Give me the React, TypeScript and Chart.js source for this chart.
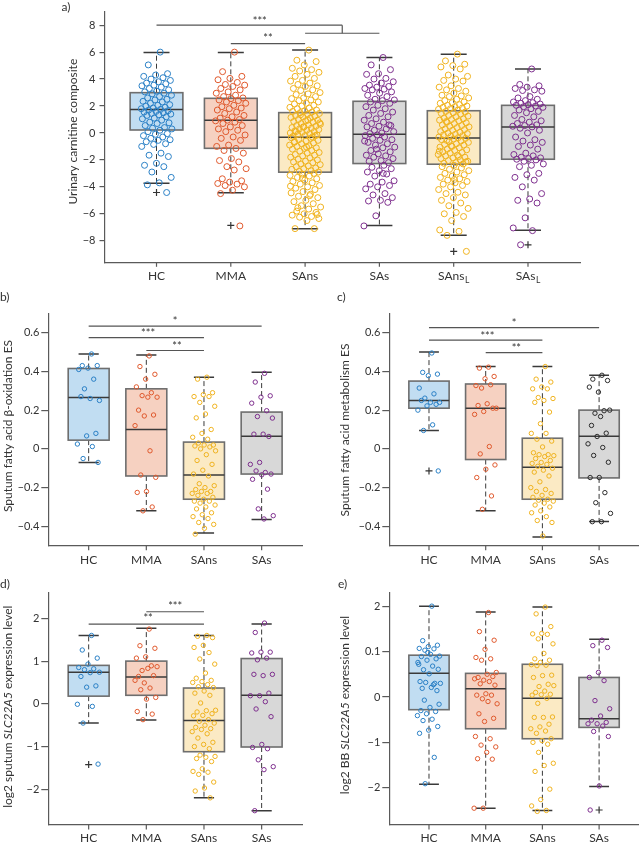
import React, { useEffect, useRef } from 'react';
import { Chart, registerables } from 'chart.js';
Chart.register(...registerables);

const FONT = 'Lato, "Noto Sans", sans-serif';
const TEXT = '#333333';
const AXIS = '#5a5a5a';

// ---------- shared categories / colours ----------
const groupsA = ['HC', 'MMA', 'SAns', 'SAs', 'SAns', 'SAs'];
const subsA = ['', '', '', '', 'L', 'L'];
const groupsB = ['HC', 'MMA', 'SAns', 'SAs'];
const subsB = ['', '', '', ''];
const dotColors = ['#2a80c6', '#e0592d', '#f0b31f', '#7e2f8e', '#f0b31f', '#7e2f8e'];
const dotColorsC = ['#2a80c6', '#e0592d', '#f0b31f', '#2b2b2b'];
const boxFills = ['#c1ddf2', '#f6d1c1', '#fbeac4', '#d8d8d8', '#fbeac4', '#d8d8d8'];

// ---------- panel a: urinary carnitine composite ----------
const aTicks = [-8, -6, -4, -2, 0, 2, 4, 6, 8];
const aTickLabels = ['−8', '−6', '−4', '−2', '0', '2', '4', '6', '8'];
const aHC = [6.0, 5.05, 4.4, 4.3, 4.2, 4.1, 4.0, 3.9, 3.8, 3.7, 3.65, 3.55, 3.5, 3.4, 3.3, 3.2, 3.1, 3.05, 2.95, 2.9, 2.8, 2.7, 2.6, 2.5, 2.45, 2.35, 2.3, 2.2, 2.1, 2.05, 2.0, 1.9, 1.85, 1.8, 1.75, 1.7, 1.65, 1.6, 1.55, 1.5, 1.45, 1.4, 1.35, 1.3, 1.2, 1.1, 1.05, 0.95, 0.8, 0.75, 0.7, 0.55, 0.4, 0.35, 0.3, 0.2, 0.1, -0.05, -0.1, -0.2, -0.3, -0.4, -0.5, -0.55, -0.65, -0.8, -0.85, -1.0, -1.5, -1.65, -1.75, -2.25, -2.4, -2.5, -2.9, -3.3, -3.7, -3.85, -4.42];
const aMMA = [6.0, 4.55, 4.2, 4.05, 3.95, 3.75, 3.6, 3.55, 3.45, 3.3, 3.2, 3.05, 2.95, 2.8, 2.7, 2.6, 2.55, 2.45, 2.4, 2.3, 2.2, 2.05, 1.95, 1.85, 1.8, 1.7, 1.55, 1.45, 1.3, 1.2, 1.1, 1.0, 0.95, 0.9, 0.8, 0.7, 0.55, 0.45, 0.3, 0.2, 0.1, -0.15, -0.3, -0.4, -0.55, -0.9, -1.0, -1.15, -1.3, -1.5, -1.9, -2.05, -2.15, -2.5, -2.65, -2.75, -3.4, -3.55, -3.65, -3.75, -3.8, -3.9, -4.0, -4.25, -4.5, -6.9];
const aSAns = [6.15, 5.4, 5.3, 5.05, 4.8, 4.7, 4.6, 4.5, 4.35, 4.2, 4.05, 3.9, 3.85, 3.7, 3.6, 3.5, 3.45, 3.3, 3.2, 3.15, 3.0, 2.9, 2.85, 2.7, 2.6, 2.55, 2.45, 2.4, 2.3, 2.2, 2.15, 2.05, 2.0, 1.9, 1.85, 1.8, 1.7, 1.65, 1.6, 1.55,
  1.5, 1.45, 1.4, 1.3, 1.25, 1.2, 1.15, 1.1, 1.0, 0.95, 0.9, 0.85, 0.8, 0.7, 0.65, 0.6, 0.55, 0.5, 0.45, 0.4, 0.35, 0.3, 0.25, 0.2, 0.15, 0.1, 0.05, 0.0, -0.05, -0.1, -0.15, -0.2, -0.25, -0.3, 1.35, 0.75, 0.95, 0.1, -0.2, 0.45,
  -0.35, -0.4, -0.5, -0.55, -0.6, -0.7, -0.75, -0.8, -0.9, -0.95, -1.0, -1.1, -1.15, -1.2, -1.3, -1.35, -1.45, -1.5, -1.6, -1.65, -1.7, -1.8, -1.85, -1.95, -2.0, -2.1, -2.15, -2.2, -2.3, -2.35, -2.45, -2.5, -2.6, -2.65, -2.7, -2.8, -2.85, -2.9, -1.05, -0.65,
  -3.0, -3.05, -3.15, -3.2, -3.3, -3.4, -3.5, -3.6, -3.7, -3.8, -3.9, -4.0, -4.1, -4.2, -4.35, -4.45, -4.55, -4.7, -4.8, -5.0, -5.1, -5.25, -5.4, -5.5, -5.65, -5.8, -5.9, -6.0, -6.1, -6.2, -6.25, -6.35, -6.5, -7.1, -7.1, -3.35, -3.95, -4.65, -5.55, -6.05];
const aSAs = [5.6, 5.05, 4.7, 4.4, 4.35, 4.05, 4.0, 3.8, 3.7, 3.55, 3.45, 3.4, 3.3, 3.25, 3.2, 3.05, 2.95, 2.8, 2.7, 2.5, 2.45, 2.4,
  2.3, 2.2, 2.05, 1.95, 1.8, 1.7, 1.55, 1.45, 1.3, 1.2, 1.05, 0.95, 0.8, 0.7, 0.55, 0.5, 0.45, 0.3, 0.2, 0.1, 0.0, -0.05, 0.6,
  -0.15, -0.2, -0.3, -0.4, -0.5, -0.55, -0.7, -0.8, -0.9, -1.05, -1.1, -1.3, -1.4, -1.55, -1.65, -1.7, -1.8, -1.9, -2.05, -2.1, -2.2, -1.2, -0.6,
  -2.4, -2.55, -2.65, -2.8, -2.9, -3.05, -3.2, -3.55, -3.65, -3.8, -3.9, -4.0, -4.15, -4.5, -4.6, -4.8, -5.0, -5.05, -5.15, -6.15, -6.9, -3.0];
const aSAnsL = [5.85, 5.35, 5.1, 5.0, 4.9, 4.75, 4.3, 4.2, 4.0, 3.9, 3.85, 3.5, 3.4, 3.3, 3.2, 3.1, 2.95, 2.8, 2.75, 2.7, 2.6, 2.5, 2.4, 2.3, 2.25, 2.2, 2.1, 2.05, 2.0, 1.95, 1.9, 1.85, 1.8, 1.75, 1.7,
  1.6, 1.55, 1.5, 1.45, 1.4, 1.3, 1.25, 1.2, 1.1, 1.05, 1.0, 0.95, 0.9, 0.8, 0.75, 0.7, 0.6, 0.55, 0.5, 0.45, 0.4, 0.3, 0.25, 0.2, 0.1, 0.05, 0.0, -0.05, -0.1, -0.15, -0.2, -0.25, -0.3, -0.35, 0.85,
  -0.4, -0.45, -0.5, -0.6, -0.65, -0.7, -0.8, -0.85, -0.9, -1.0, -1.05, -1.1, -1.2, -1.25, -1.3, -1.4, -1.45, -1.5, -1.6, -1.65, -1.7, -1.8, -1.85, -1.9, -2.0, -2.05, -2.1, -2.2, -2.25, -2.3, -0.95, -1.35, -1.75, -0.55, -2.15,
  -2.4, -2.5, -2.6, -2.7, -2.8, -2.9, -3.0, -3.1, -3.2, -3.3, -3.4, -3.5, -3.6, -3.7, -3.8, -3.9, -4.0, -4.2, -4.4, -4.5, -4.6, -4.8, -5.0, -5.2, -5.4, -5.6, -5.9, -6.0, -6.2, -6.5, -7.2, -7.3, -7.6, -8.79, -3.45];
const aSAsL = [4.75, 3.6, 3.5, 3.4, 3.3, 3.2, 3.15, 3.1, 2.7, 2.6, 2.5, 2.4, 2.3, 2.25, 2.2, 2.15, 2.1, 2.05,
  2.0, 1.95, 1.9, 1.8, 1.7, 1.6, 1.5, 1.3, 1.2, 1.0, 0.9, 0.8, 0.7, 0.6, 0.55, 0.5, 0.45,
  0.35, 0.2, 0.0, -0.3, -0.5, -0.6, -0.7, -0.9, -1.0, -1.2, -1.5, -1.6, -1.7, -1.8, -1.85, -1.9, -1.95,
  -2.0, -2.1, -2.3, -2.4, -2.5, -3.0, -3.1, -3.3, -3.5, -4.0, -4.5, -4.9, -5.0, -5.2, -6.3, -7.05, -7.25, -8.3];
// [lower whisker, q1, median, q3, upper whisker]
const aBoxes = [[-3.73, 0.22, 1.75, 2.99, 5.98], [-4.44, -1.14, 0.94, 2.57, 5.98], [-7.11, -2.91, -0.32, 1.51, 6.15], [-6.86, -2.27, -0.1, 2.35, 5.6], [-7.6, -2.32, -0.37, 1.65, 5.85], [-7.23, -1.95, 0.44, 2.05, 4.74]];
const aOutliers = [[0, -4.42], [1, -6.86], [4, -8.79], [5, -8.3]];

// ---------- panel b: sputum fatty acid beta-oxidation ----------
const bcTicks = [-0.4, -0.2, 0, 0.2, 0.4, 0.6];
const bcTickLabels = ['−0.4', '−0.2', '0', '0.2', '0.4', '0.6'];
const bHC = [0.49, 0.43, 0.43, 0.417, 0.41, 0.36, 0.31, 0.25, 0.26, 0.27, 0.08, 0.067, 0.025, 0.012, -0.05, -0.07];
const bMMA = [0.48, 0.425, 0.385, 0.36, 0.32, 0.29, 0.275, 0.267, 0.267, 0.2, 0.175, 0.17, 0.12, -0.01, -0.135, -0.147, -0.22, -0.225, -0.3, -0.32];
const bSAns = [0.37, 0.36, 0.29, 0.28, 0.27, 0.27, 0.24, 0.22, 0.18, 0.16, 0.1, 0.08, 0.06, 0.05, 0.03, 0.02, 0.02, 0.015, 0.01, 0.0, -0.01, -0.03, -0.06, -0.08, -0.11, -0.13, -0.14, -0.18, -0.19, -0.2, -0.21, -0.22, -0.22, -0.23, -0.23, -0.24, -0.25, -0.26, -0.27, -0.27, -0.28, -0.29, -0.3, -0.31, -0.33, -0.34, -0.35, -0.36, -0.38, -0.39, -0.41, -0.44];
const bSAs = [0.39, 0.345, 0.274, 0.267, 0.236, 0.197, 0.167, 0.159, 0.076, 0.076, 0.064, -0.07, -0.08, -0.122, -0.114, -0.13, -0.134, -0.157, -0.208, -0.31, -0.345, -0.362];
const bBoxes = [[-0.07, 0.045, 0.265, 0.415, 0.49], [-0.32, -0.14, 0.1, 0.31, 0.485], [-0.435, -0.26, -0.135, 0.035, 0.37], [-0.365, -0.13, 0.065, 0.19, 0.395]];

// ---------- panel c: sputum fatty acid metabolism ----------
const cHC = [0.495, 0.395, 0.386, 0.378, 0.314, 0.284, 0.262, 0.24, 0.24, 0.25, 0.23, 0.222, 0.2, 0.124, 0.095, -0.114];
const cMMA = [0.422, 0.417, 0.374, 0.362, 0.327, 0.331, 0.314, 0.21, 0.233, 0.224, 0.21, 0.193, 0.178, 0.012, -0.026, -0.083, -0.105, -0.148, -0.243, -0.312];
const cSAns = [0.425, 0.36, 0.345, 0.32, 0.31, 0.31, 0.265, 0.26, 0.25, 0.24, 0.19, 0.13, 0.08, 0.08, 0.05, 0.04, 0.01, -0.02, -0.03, -0.03, -0.035, -0.04, -0.05, -0.06, -0.07, -0.075, -0.08, -0.09, -0.1, -0.11, -0.12, -0.14, -0.17, -0.2, -0.21, -0.22, -0.23, -0.24, -0.25, -0.26, -0.265, -0.27, -0.28, -0.29, -0.3, -0.32, -0.33, -0.35, -0.37, -0.38, -0.45];
const cSAs = [0.38, 0.36, 0.353, 0.293, 0.319, 0.197, 0.184, 0.2, 0.167, 0.121, 0.081, 0.064, 0.026, 0.007, -0.034, -0.069, -0.148, -0.148, -0.226, -0.278, -0.333, -0.376, -0.376];
const cBoxes = [[0.095, 0.21, 0.25, 0.35, 0.5], [-0.32, -0.055, 0.21, 0.335, 0.425], [-0.455, -0.26, -0.095, 0.055, 0.425], [-0.375, -0.15, 0.065, 0.2, 0.38]];
const cOutliers = [[0, -0.114]];

// ---------- panel d: sputum SLC22A5 ----------
const dTicks = [-2, -1, 0, 1, 2];
const dTickLabels = ['−2', '−1', '0', '1', '2'];
const dHC = [1.6, 1.26, 1.07, 0.93, 0.85, 0.82, 0.8, 0.74, 0.73, 0.64, 0.42, 0.39, -0.01, -0.06, -0.45, -1.41];
const dMMA = [1.75, 1.36, 1.3, 1.1, 1.07, 0.89, 0.78, 0.87, 0.83, 0.64, 0.66, 0.49, 0.55, 0.37, 0.33, 0.15, 0.11, -0.18, -0.24, -0.37];
const dSAns = [1.6, 1.58, 1.55, 1.37, 1.32, 1.2, 1.05, 0.93, 0.72, 0.6, 0.55, 0.52, 0.5, 0.45, 0.4, 0.38, 0.3, 0.25, 0.2, 0.02, -0.15, -0.16, -0.19, -0.23, -0.27, -0.28, -0.37, -0.41, -0.45, -0.5, -0.55, -0.58, -0.6, -0.65, -0.7, -0.8, -0.9, -0.95, -1.0, -1.05, -1.2, -1.23, -1.25, -1.28, -1.35, -1.52, -1.58, -1.6, -1.65, -1.83, -1.97, -2.04, -2.2];
const dSAs = [1.89, 1.67, 1.21, 1.21, 1.19, 1.07, 1.03, 0.69, 0.66, 0.69, 0.25, 0.19, 0.19, 0.05, -0.12, -0.3, -0.95, -1.02, -1.05, -1.31, -1.47, -1.54, -2.5];
const dBoxes = [[-0.45, 0.18, 0.74, 0.9, 1.6], [-0.38, 0.2, 0.63, 1.0, 1.77], [-2.2, -1.12, -0.39, 0.37, 1.6], [-2.5, -1.01, 0.2, 1.06, 1.87]];
const dOutliers = [[0, -1.42]];

// ---------- panel e: BB SLC22A5 ----------
const eTicks = [-2, -1, 0, 1, 2];
const eTickLabels = ['−2', '−1', '0', '0.1', '2'];
const eHC = [2.0, 1.24, 1.14, 1.11, 1.07, 1.06, 1.03, 0.9, 0.94, 0.89, 0.84, 0.81, 0.76, 0.68, 0.6, 0.61, 0.51, 0.34, 0.3, 0.32, 0.3, 0.21, 0.19, 0.14, 0.98, 0.72, 0.27, -0.07, -0.16, -0.23, -0.3, -0.32, -0.37, -0.41, -0.49, -0.52, -0.65, -0.73, -0.8, -1.33, -1.91];
const eMMA = [1.86, 1.44, 1.25, 1.05, 0.87, 0.84, 0.81, 0.54, 0.5, 0.43, 0.45, 0.37, 0.4, 0.34, 0.29, 0.26, 0.07, 0.04, 0.04, -0.04, -0.15, -0.1, -0.37, -0.47, -0.54, -0.87, -0.92, -1.06, -1.1, -1.22, -1.36, -1.37, -2.45, -2.45];
const eSAns = [1.98, 1.83, 1.55, 1.4, 1.39, 1.38, 1.28, 1.17, 0.96, 0.84, 0.81, 0.76, 0.71, 0.7, 0.69, 0.48, 0.47, 0.43, 0.28, 0.23, 0.25, 0.13, 0.1, 0.06, 0.05, 0.04, -0.03, -0.14, -0.44, -0.45, -0.45, -0.6, -0.66, -0.7, -0.75, -0.8, -0.92, -0.96, -1.0, -1.04, -1.22, -1.46, -1.51, -1.64, -2.03, -2.26, -2.4, -2.5, -2.52];
const eSAs = [1.25, 1.13, 1.09, 0.54, 0.43, 0.36, -0.08, -0.26, -0.42, -0.51, -0.56, -0.59, -0.59, -0.64, -0.76, -0.87, -1.96, -2.49];
const eBoxes = [[-1.92, -0.28, 0.52, 0.92, 2.0], [-2.45, -0.7, 0.18, 0.52, 1.87], [-2.5, -0.92, -0.03, 0.72, 1.98], [-1.97, -0.67, -0.48, 0.43, 1.27]];
const eOutliers = [[3, -2.49]];

// significance brackets: [x1, y1, x2, y2] in data units; stars: [text, x, y]
const aLines = [[0, 8.0, 2.5, 8.0], [2.5, 8.0, 2.5, 7.4], [2, 7.4, 3, 7.4], [1, 6.63, 2, 6.63]];
const aStars: [string, number, number][] = [['***', 1.39, 8.53], ['**', 1.5, 7.29]];
const bLines = [[0, 0.634, 3, 0.634], [0, 0.574, 2, 0.574], [1, 0.508, 2, 0.508]];
const bStars: [string, number, number][] = [['*', 1.5, 0.678], ['***', 1.03, 0.612], ['**', 1.53, 0.548]];
const cLines = [[0, 0.626, 3, 0.626], [0, 0.562, 2, 0.562], [1, 0.497, 2, 0.497]];
const cStars: [string, number, number][] = [['*', 1.5, 0.664], ['***', 1.03, 0.6], ['**', 1.54, 0.536]];
const dLines = [[1, 2.155, 2, 2.155], [0, 1.867, 2, 1.867]];
const dStars: [string, number, number][] = [['***', 1.5, 2.36], ['**', 1.03, 2.08]];

type Spec = {
  left: number; top: number; width: number; height: number;
  pad: { left: number; right: number; top: number; bottom: number };
  yW: number; xH: number; tickPad: number; tickLen: number;
  xMin: number; xMax: number; yMin: number; yMax: number;
  yTicks: number[]; yTickLabels: string[];
  groups: string[]; subs: string[];
  points: number[][]; colors: string[]; fills: string[];
  boxes: number[][]; outliers: number[][];
  lines: number[][]; stars: [string, number, number][];
  title: [string, boolean][]; titleX: number; titleY: number;
  label: string; labelX: number; labelY: number;
  r: number; xLabelOffset: number;
};

const specs: Spec[] = [
  {
    left: 0, top: 0, width: 644, height: 285,
    pad: { left: 74.5, right: 64, top: 11.7, bottom: 7.7 }, yW: 30, xH: 15, tickPad: 4, tickLen: 5,
    xMin: -0.7, xMax: 5.7, yMin: -9.6, yMax: 9.0, yTicks: aTicks, yTickLabels: aTickLabels,
    groups: groupsA, subs: subsA, points: [aHC, aMMA, aSAns, aSAs, aSAnsL, aSAsL],
    colors: dotColors, fills: boxFills, boxes: aBoxes, outliers: aOutliers,
    lines: aLines, stars: aStars,
    title: [['Urinary carnitine composite', false]], titleX: 72.8, titleY: 131.7,
    label: 'a)', labelX: 61.5, labelY: 7.5, r: 3, xLabelOffset: 13.4,
  },
  {
    left: 0, top: 285, width: 322, height: 285,
    pad: { left: 18.3, right: 20, top: 28.3, bottom: 9.3 }, yW: 30, xH: 15, tickPad: 2, tickLen: 7,
    xMin: -0.7, xMax: 3.7, yMin: -0.5, yMax: 0.7, yTicks: bcTicks, yTickLabels: bcTickLabels,
    groups: groupsB, subs: subsB, points: [bHC, bMMA, bSAns, bSAs],
    colors: dotColors, fills: boxFills, boxes: bBoxes, outliers: [],
    lines: bLines, stars: bStars,
    title: [['Sputum fatty acid β-oxidation ES', false]], titleX: 8.5, titleY: 141,
    label: 'b)', labelX: 0, labelY: 11.7, r: 2.2, xLabelOffset: 14.3,
  },
  {
    left: 322, top: 285, width: 322, height: 285,
    pad: { left: 37.3, right: 0.5, top: 28.3, bottom: 9.3 }, yW: 30, xH: 15, tickPad: 2, tickLen: 7,
    xMin: -0.7, xMax: 3.7, yMin: -0.5, yMax: 0.7, yTicks: bcTicks, yTickLabels: bcTickLabels,
    groups: groupsB, subs: subsB, points: [cHC, cMMA, cSAns, cSAs],
    colors: dotColorsC, fills: boxFills, boxes: cBoxes, outliers: cOutliers,
    lines: cLines, stars: cStars,
    title: [['Sputum fatty acid metabolism ES', false]], titleX: 23.3, titleY: 145,
    label: 'c)', labelX: 15, labelY: 11.7, r: 2.2, xLabelOffset: 14.3,
  },
  {
    left: 0, top: 570, width: 322, height: 277,
    pad: { left: 18.3, right: 20, top: 22.3, bottom: 7 }, yW: 30, xH: 15, tickPad: 2, tickLen: 7,
    xMin: -0.7, xMax: 3.7, yMin: -2.835, yMax: 2.61, yTicks: dTicks, yTickLabels: dTickLabels,
    groups: groupsB, subs: subsB, points: [dHC, dMMA, dSAns, dSAs],
    colors: dotColors, fills: boxFills, boxes: dBoxes, outliers: dOutliers,
    lines: dLines, stars: dStars,
    title: [['log2 sputum ', false], ['SLC22A5', true], [' expression level', false]], titleX: 8.5, titleY: 136.7,
    label: 'd)', labelX: 0, labelY: 14, r: 2.2, xLabelOffset: 13,
  },
  {
    left: 322, top: 570, width: 322, height: 277,
    pad: { left: 37.3, right: 0.5, top: 23, bottom: 7 }, yW: 30, xH: 15, tickPad: 2, tickLen: 7,
    xMin: -0.7, xMax: 3.7, yMin: -2.82, yMax: 2.29, yTicks: eTicks, yTickLabels: eTickLabels,
    groups: groupsB, subs: subsB, points: [eHC, eMMA, eSAns, eSAs],
    colors: dotColors, fills: boxFills, boxes: eBoxes, outliers: eOutliers,
    lines: [], stars: [],
    title: [['log2 BB ', false], ['SLC22A5', true], [' expression level', false]], titleX: 22.7, titleY: 135,
    label: 'e)', labelX: 16, labelY: 14, r: 2.2, xLabelOffset: 13,
  },
];

const jit = (j: number) => ((((j + 1) * 0.6180339887) % 1) - 0.5) * 0.42;

function Panel({ spec }: { spec: Spec }) {
  const ref = useRef<HTMLCanvasElement>(null);
  useEffect(() => {
    const canvas = ref.current!;
    const s = spec;
    const plugin = {
      id: 'panelDecor',
      beforeDatasetsDraw(chart: any) {
        const { ctx } = chart;
        const x = chart.scales.x, y = chart.scales.y;
        s.boxes.forEach((b, i) => {
          const [lo, q1, med, q3, hi] = b;
          const xc = x.getPixelForValue(i);
          const xl = x.getPixelForValue(i - 0.355), xr = x.getPixelForValue(i + 0.355);
          const cl = x.getPixelForValue(i - 0.175), cr = x.getPixelForValue(i + 0.175);
          ctx.save();
          ctx.strokeStyle = '#3a3a3a';
          ctx.lineWidth = 1;
          ctx.setLineDash([5, 3]);
          ctx.beginPath();
          ctx.moveTo(xc, y.getPixelForValue(q3)); ctx.lineTo(xc, y.getPixelForValue(hi));
          ctx.moveTo(xc, y.getPixelForValue(q1)); ctx.lineTo(xc, y.getPixelForValue(lo));
          ctx.stroke();
          ctx.setLineDash([]);
          ctx.lineWidth = 1.5;
          ctx.beginPath();
          ctx.moveTo(cl, y.getPixelForValue(hi)); ctx.lineTo(cr, y.getPixelForValue(hi));
          ctx.moveTo(cl, y.getPixelForValue(lo)); ctx.lineTo(cr, y.getPixelForValue(lo));
          ctx.stroke();
          const yt = y.getPixelForValue(q3), yb = y.getPixelForValue(q1);
          ctx.fillStyle = s.fills[i];
          ctx.fillRect(xl, yt, xr - xl, yb - yt);
          ctx.strokeStyle = '#6e6e6e';
          ctx.lineWidth = 1.6;
          ctx.strokeRect(xl, yt, xr - xl, yb - yt);
          ctx.strokeStyle = '#3a3a3a';
          ctx.lineWidth = 1.5;
          ctx.beginPath();
          ctx.moveTo(xl, y.getPixelForValue(med)); ctx.lineTo(xr, y.getPixelForValue(med));
          ctx.stroke();
          ctx.restore();
        });
      },
      afterDraw(chart: any) {
        const { ctx, chartArea } = chart;
        const x = chart.scales.x, y = chart.scales.y;
        ctx.save();
        // x tick marks
        ctx.strokeStyle = AXIS;
        ctx.lineWidth = 1.2;
        s.groups.forEach((_, i) => {
          const px = x.getPixelForValue(i);
          ctx.beginPath();
          ctx.moveTo(px, chartArea.bottom); ctx.lineTo(px, chartArea.bottom + 4.5);
          ctx.stroke();
        });
        // x labels with optional subscript
        ctx.fillStyle = TEXT;
        ctx.textBaseline = 'middle';
        ctx.textAlign = 'left';
        s.groups.forEach((g, i) => {
          const px = x.getPixelForValue(i);
          ctx.font = `12px ${FONT}`;
          const w1 = ctx.measureText(g).width;
          let w2 = 0;
          if (s.subs[i]) { ctx.font = `8.5px ${FONT}`; w2 = ctx.measureText(s.subs[i]).width + 0.5; }
          const x0 = px - (w1 + w2) / 2;
          const yy = chartArea.bottom + s.xLabelOffset;
          ctx.font = `12px ${FONT}`;
          ctx.fillText(g, x0, yy);
          if (s.subs[i]) { ctx.font = `8.5px ${FONT}`; ctx.fillText(s.subs[i], x0 + w1 + 0.5, yy + 4.5); }
        });
        // significance brackets
        ctx.strokeStyle = '#555555';
        ctx.lineWidth = 1.2;
        s.lines.forEach(([x1, y1, x2, y2]) => {
          ctx.beginPath();
          ctx.moveTo(x.getPixelForValue(x1), y.getPixelForValue(y1));
          ctx.lineTo(x.getPixelForValue(x2), y.getPixelForValue(y2));
          ctx.stroke();
        });
        ctx.font = `11px ${FONT}`;
        ctx.textAlign = 'center';
        ctx.textBaseline = 'alphabetic';
        s.stars.forEach(([t, sx, sy]) => {
          const m = ctx.measureText(t);
          const yc = y.getPixelForValue(sy);
          const base = yc + (m.actualBoundingBoxAscent - m.actualBoundingBoxDescent) / 2;
          ctx.fillText(t, x.getPixelForValue(sx), base);
        });
        // y title (rotated, with optional italic parts)
        ctx.translate(s.titleX, s.titleY);
        ctx.rotate(-Math.PI / 2);
        ctx.textAlign = 'left';
        ctx.textBaseline = 'middle';
        let total = 0;
        s.title.forEach(([t, it]) => { ctx.font = `${it ? 'italic ' : ''}12px ${FONT}`; total += ctx.measureText(t).width; });
        let cx = -total / 2;
        s.title.forEach(([t, it]) => {
          ctx.font = `${it ? 'italic ' : ''}12px ${FONT}`;
          ctx.fillText(t, cx, 0);
          cx += ctx.measureText(t).width;
        });
        ctx.restore();
        // panel label
        ctx.save();
        ctx.fillStyle = TEXT;
        ctx.font = `12px ${FONT}`;
        ctx.textAlign = 'left';
        ctx.textBaseline = 'middle';
        ctx.fillText(s.label, s.labelX, s.labelY);
        ctx.restore();
      },
    };

    const datasets: any[] = s.points.map((arr, i) => ({
      label: s.groups[i] + s.subs[i],
      data: arr.map((v, j) => ({ x: i + jit(j), y: v })),
      pointRadius: s.r,
      pointBorderWidth: 1,
      pointBorderColor: s.colors[i],
      pointBackgroundColor: 'rgba(0,0,0,0)',
      showLine: false,
    }));
    datasets.push({
      label: 'outliers',
      data: s.outliers.map(([c, v]) => ({ x: c, y: v })),
      pointStyle: 'cross',
      pointRadius: 3.5,
      pointBorderWidth: 1.2,
      pointBorderColor: '#333333',
      showLine: false,
    });

    const chart = new Chart(canvas, {
      type: 'scatter',
      data: { datasets },
      plugins: [plugin],
      options: {
        animation: false,
        responsive: false,
        maintainAspectRatio: false,
        devicePixelRatio: 1,
        layout: { padding: s.pad },
        plugins: { legend: { display: false }, tooltip: { enabled: false } },
        scales: {
          x: {
            type: 'linear', min: s.xMin, max: s.xMax,
            grid: { display: false },
            ticks: { display: false },
            border: { display: true, color: AXIS, width: 1.2 },
            afterFit: (sc: any) => { sc.height = s.xH; sc.paddingLeft = 0; sc.paddingRight = 0; },
          },
          y: {
            type: 'linear', min: s.yMin, max: s.yMax,
            afterBuildTicks: (sc: any) => { sc.ticks = s.yTicks.map((v) => ({ value: v })); },
            ticks: {
              font: { family: FONT, size: 11 }, color: TEXT, padding: s.tickPad,
              autoSkip: false,
              callback: (_v: any, idx: number) => s.yTickLabels[idx],
            },
            grid: { drawOnChartArea: false, drawTicks: true, tickLength: s.tickLen, color: AXIS, lineWidth: 1.2 },
            border: { display: true, color: AXIS, width: 1.2 },
            afterFit: (sc: any) => { sc.width = s.yW; sc.paddingTop = 0; sc.paddingBottom = 0; },
          },
        },
      } as any,
    });
    return () => chart.destroy();
  }, [spec]);
  return (
    <canvas
      ref={ref}
      width={spec.width}
      height={spec.height}
      style={{ position: 'absolute', left: spec.left, top: spec.top, width: spec.width, height: spec.height }}
    />
  );
}

export default function App() {
  return (
    <div style={{ position: 'absolute', left: 0, top: 0, width: 644, height: 847, background: '#ffffff', fontFamily: FONT }}>
      {specs.map((s, i) => <Panel key={i} spec={s} />)}
    </div>
  );
}
